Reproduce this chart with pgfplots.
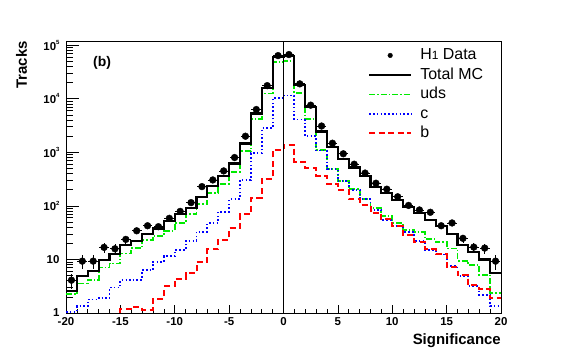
\documentclass[border=0pt]{standalone}
\usepackage{pgfplots}
\pgfplotsset{compat=1.18}
\usepackage{pgfplotstable}
\usepackage{fontspec}
\setmainfont{Liberation Sans}

\definecolor{rgreen}{RGB}{0,235,0}
\definecolor{rblue}{RGB}{0,0,255}
\definecolor{rred}{RGB}{255,0,0}

\newcommand{\pw}[1]{\textbf{10}\raisebox{0.5em}{\fontsize{6}{6}\selectfont\bfseries #1}}

\pgfplotstableread{
x y ex ey
-19.5 4.1 0.45 1.3
-18.5 9.3 0.45 2.7
-17.5 9.3 0.45 2.7
-16.5 16.8 0.45 3.5
-15.5 15.8 0.45 3.4
-14.5 23.7 0.45 4.2
-13.5 34.3 0.45 5
-12.5 42.6 0.45 5.6
-11.5 40.9 0.45 5.5
-10.5 58.6 0.45 6.6
-9.5 79 0.45 7.7
-8.5 115 0.45 9.3
-7.5 229 0.45 13
-6.5 305 0.45 15
-5.5 450 0.45 18
-4.5 800 0.45 24
-3.5 2000 0.45 38
-2.5 6300 0.45 68
-1.5 17600 0.45 113
-0.5 64000 0.45 216
0.5 67000 0.45 221
1.5 19000 0.45 117
2.5 7600 0.45 74
3.5 3100 0.45 47
4.5 1480 0.45 33
5.5 940 0.45 26
6.5 600 0.45 21
7.5 410 0.45 17
8.5 265 0.45 14
9.5 205 0.45 12.4
10.5 148 0.45 10.5
11.5 102 0.45 8.7
12.5 84 0.45 7.9
13.5 76 0.45 7.5
14.5 42.6 0.45 5.6
15.5 48 0.45 6
16.5 24.8 0.45 4.3
17.5 17 0.45 3.6
18.5 16.3 0.45 3.5
19.5 9.3 0.45 3.0
}\datatab

\pgfplotstableread{
x y
-20 2.6
-19 4.9
-18 6.0
-17 9.7
-16 12.6
-15 18.5
-14 22.3
-13 29.4
-12 38
-11 53
-10 70
-9 92
-8 149
-7 232
-6 358
-5 620
-4 1460
-3 5300
-2 15900
-1 60700
0 62000
1 17800
2 7050
3 2460
4 1250
5 750
6 520
7 360
8 229
9 177
10 129
11 94
12 73
13 54
14 42
15 29.7
16 18.3
17 13.7
18 10
19 5.5
20 5.5
}\mctab

\pgfplotstableread{
x y
-20 2.24
-19 3.55
-18 4.2
-17 7.1
-16 8.4
-15 12.9
-14 16.3
-13 23
-12 27.5
-11 34
-10 47.5
-9 71
-8 108
-7 175
-6 255
-5 430
-4 1050
-3 4250
-2 12500
-1 49000
0 50000
1 12800
2 4200
3 1110
4 490
5 295
6 205
7 133
8 91
9 64
10 48.5
11 36
12 32
13 24
14 21
15 16
16 9.4
17 7.8
18 5.2
19 2.37
20 2.37
}\udstab

\pgfplotstableread{
x y
-20 1.05
-19 1.33
-18 1.78
-17 1.9
-16 3.0
-15 4.1
-14 4.2
-13 6.3
-12 9.0
-11 11.5
-10 14.9
-9 22.3
-8 33
-7 48
-6 78
-5 133
-4 305
-3 966
-2 2800
-1 10200
0 11500
1 4100
2 2000
3 1080
4 484
5 290
6 199
7 133
8 84
9 54
10 42
11 32
12 22.3
13 14.9
14 12.4
15 7.5
16 4.9
17 3.2
18 2.14
19 1.33
20 1.33
}\ctab

\pgfplotstableread{
x y
-20 0.9
-19 0.9
-18 0.9
-17 0.9
-16 0.9
-15 1.2
-14 1.3
-13 1.15
-12 1.86
-11 3.16
-10 4.3
-9 5.5
-8 9.0
-7 15.4
-6 23
-5 38
-4 70
-3 140
-2 320
-1 1100
0 1380
1 673
2 505
3 363
4 257
5 195
6 133
7 104
8 74
9 56
10 42
11 28.5
12 21.3
13 15.4
14 12.4
15 7.1
16 5.1
17 3.3
18 2.75
19 1.94
20 1.94
}\btab

\begin{document}
\begin{tikzpicture}
\useasboundingbox (0,0) rectangle (567bp,354bp);
\begin{axis}[
  at={(66bp,41bp)}, anchor=south west,
  scale only axis, width=435bp, height=272bp,
  xmin=-20, xmax=20, ymode=log, ymin=1, ymax=1.2e5,
  axis line style={line width=0.8bp, black},
  tick align=inside, xtick pos=bottom, ytick pos=left,
  xtick={-20,-15,-10,-5,0,5,10,15,20},
  xticklabels={-20,-15,-10,-5,0,5,10,15,20},
  minor xtick={-19,-18,-17,-16,-14,-13,-12,-11,-9,-8,-7,-6,-4,-3,-2,-1,1,2,3,4,6,7,8,9,11,12,13,14,16,17,18,19},
  ytick={1,10,100,1000,10000,100000},
  yticklabels={\textbf{1},\textbf{10},\pw{2},\pw{3},\pw{4},\pw{5}},
  minor ytick={2,3,4,5,6,7,8,9,20,30,40,50,60,70,80,90,200,300,400,500,600,700,800,900,2000,3000,4000,5000,6000,7000,8000,9000,20000,30000,40000,50000,60000,70000,80000,90000},
  ticklabel style={font=\bfseries\fontsize{11.5}{12}\selectfont},
  yticklabel style={xshift=-3bp},
  xticklabel style={yshift=-1bp},
  xtick style={black, line width=0.6bp, /pgfplots/major tick length=8bp, /pgfplots/minor tick length=4bp},
  ytick style={black, line width=0.6bp, /pgfplots/major tick length=13bp, /pgfplots/minor tick length=6.5bp},
  xlabel={Significance}, ylabel={Tracks},
  label style={font=\bfseries\fontsize{15}{15}\selectfont, inner sep=0pt},
  xlabel style={at={(axis description cs:1,-0.1158)}, anchor=base east},
  ylabel style={at={(axis description cs:-0.0897,1)}, anchor=base east},
  legend image code/.code={\draw[mark repeat=2,mark phase=2,#1] plot coordinates {(0bp,0bp) (21bp,0bp) (42bp,0bp)};},
  legend cell align=left,
  legend style={at={(axis description cs:0.694,0.978)}, anchor=north west, draw=none, fill=none,
    inner sep=0pt, row sep=3bp, column sep=0pt,
    font=\fontsize{16}{16}\selectfont,
    nodes={inner xsep=8bp, inner ysep=0pt, text height=12.5bp, text depth=4bp}},
]
\addplot[only marks, mark=*, mark size=2.3bp, black] table[x=x, y=y]{\datatab};
\addlegendentry{H{\fontsize{12}{12}\selectfont 1} Data}
\addplot[const plot, black, mark=none, line width=2.2bp] table[x=x,y=y]{\mctab};
\addlegendentry{Total MC}
\addplot[const plot, rgreen, mark=none, line width=1.8bp, dash pattern=on 6bp off 2bp on 1.5bp off 2bp] table[x=x,y=y]{\udstab};
\addlegendentry{uds}
\addplot[const plot, rblue, mark=none, line width=1.8bp, dash pattern=on 1.6bp off 2.2bp] table[x=x,y=y]{\ctab};
\addlegendentry{c}
\addplot[const plot, rred, mark=none, line width=2bp, dash pattern=on 6bp off 3.5bp] table[x=x,y=y]{\btab};
\addlegendentry{b}
\addplot[forget plot, const plot, black, mark=none, line width=2.2bp] table[x=x,y=y]{\mctab};
\addplot[forget plot, black, line width=0.5bp] coordinates {(0,1) (0,1.2e5)};
\addplot[forget plot, only marks, mark=*, mark size=3.4bp, black,
  error bars/.cd, x dir=both, x explicit, y dir=both, y explicit, error mark=none,
  error bar style={line width=0.8bp, black}]
  table[x=x, y=y, x error=ex, y error=ey]{\datatab};
\node[anchor=base west, inner sep=0pt, font=\bfseries\fontsize{14}{15}\selectfont] at (axis description cs:0.062,0.908) {(b)};
\end{axis}
\end{tikzpicture}
\end{document}
